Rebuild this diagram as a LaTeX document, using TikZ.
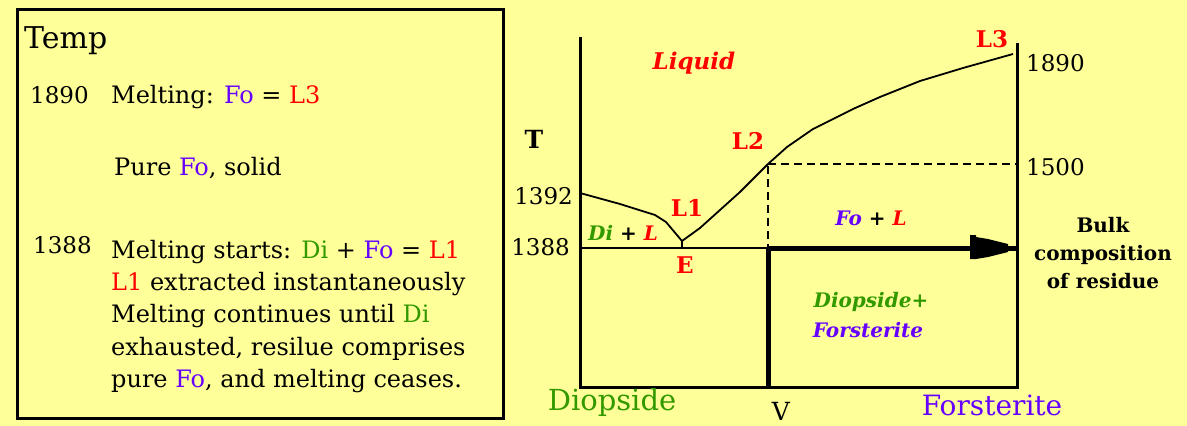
\documentclass[tikz,border=0pt]{standalone}
\usepackage{fontspec}
\setmainfont{DejaVu Serif}
\definecolor{bg}{HTML}{FFFF99}
\definecolor{rd}{HTML}{FF0000}
\definecolor{gr}{HTML}{339900}
\definecolor{pu}{HTML}{6600FF}
\newcommand{\fs}[1]{\fontsize{#1}{#1}\selectfont}
\tikzset{
  txt/.style={inner sep=0pt, anchor=base west, font=\fs{24}},
  num/.style={inner sep=0pt, font=\fs{23}},
  lab/.style={inner sep=0pt, text=rd, font=\bfseries\fs{23}},
  ital/.style={inner sep=0pt, font=\bfseries\itshape\fs{20}},
  axis/.style={line width=3pt},
  curve/.style={line width=1.8pt, line join=round},
  dsh/.style={line width=2.6pt, dash pattern=on 8pt off 5pt},
}
\begin{document}
\begin{tikzpicture}[x=1pt,y=-1pt]
\fill[bg] (0,0) rectangle (1187,426);
\useasboundingbox (0,0) rectangle (1187,426);
% left text box
\draw[line width=3pt] (17.5,9.5) rectangle (503,418);
\node[txt, font=\fs{30}] (temp) at (24,48) {Temp};
\node[txt, font=\fs{23}] (t1890) at (30,103) {1890};
\node[txt] (m1) at (111,103) {Melting: \textcolor{pu}{Fo} = \textcolor{rd}{L3}};
\node[txt] (pure) at (114,175) {Pure \textcolor{pu}{Fo}, solid};
\node[txt, font=\fs{23}] (t1388) at (33,253) {1388};
\node[txt] (l1) at (111,258) {Melting starts: \textcolor{gr}{Di} + \textcolor{pu}{Fo} = \textcolor{rd}{L1}};
\node[txt] (l2) at (111,290) {\textcolor{rd}{L1} extracted instantaneously};
\node[txt] (l3) at (111,322) {Melting continues until \textcolor{gr}{Di}};
\node[txt] (l4) at (111,355) {exhausted, resilue comprises};
\node[txt] (l5) at (111,387) {pure \textcolor{pu}{Fo}, and melting ceases.};
% chart axes
\draw[axis] (580,37) -- (580,387) -- (1017,387) -- (1017,43);
% liquidus curves
\draw[curve] (580,193) -- (620,204) -- (655,215) -- (666,222) -- (682,241);
\draw[curve] (682,241) -- (700,228) -- (740,192) -- (768,164);
\draw[curve] (768,164) -- (787,147) -- (813,129) -- (853,109) -- (880,97) -- (920,81) -- (963,68) -- (1013,54);
\draw[curve] (682,241) -- (682,248);
% dashed lines
\draw[dsh] (768,164) -- (1017,164);
\draw[dsh] (768,166) -- (768,248);
% 1388 line
\draw[line width=2.6pt] (580,248) -- (768,248);
\draw[line width=5pt] (768,248) -- (1017,248);
\draw[line width=5pt] (768,248) -- (768,388);
\fill (970,235) -- (976,235) -- (976,237) -- (988,239) -- (1000,242) -- (1008,244) -- (1008,252) -- (1000,254) -- (988,257) -- (976,259) -- (970,259) -- cycle;
% labels
\node[inner sep=0pt, font=\bfseries\fs{25}] (T) at (534,139) {T};
\node[num, anchor=east] (n1392) at (573,196) {1392};
\node[num, anchor=east] (n1388) at (570,247) {1388};
\node[num, anchor=west] (n1890) at (1026,63) {1890};
\node[num, anchor=west] (n1500) at (1026,167) {1500};
\node[lab] (L3) at (992,39) {L3};
\node[lab] (L2) at (748,141) {L2};
\node[lab] (L1) at (687,208) {L1};
\node[lab] (E) at (685,265) {E};
\node[ital, text=rd, font=\bfseries\itshape\fs{23}] (liq) at (694,63) {Liquid};
\node[ital] (dil) at (623,233) {\textcolor{gr}{Di} + \textcolor{rd}{L}};
\node[ital] (fol) at (871,218) {\textcolor{pu}{Fo} + \textcolor{rd}{L}};
\node[ital, text=gr] (dio) at (871,302) {Diopside+};
\node[ital, text=pu] (fors) at (868,330) {Forsterite};
\node[inner sep=0pt, text=gr, font=\fs{29}] (diop) at (612,402) {Diopside};
\node[inner sep=0pt, text=pu, font=\fs{28}] (forst) at (992,405) {Forsterite};
\node[inner sep=0pt, font=\fs{25}, anchor=base] (V) at (781,420) {V};
\node[inner sep=0pt, font=\bfseries\fs{20}, align=center] (bulk) at (1103,253) {Bulk\\[8pt]composition\\[8pt]of residue};
\end{tikzpicture}
\end{document}
